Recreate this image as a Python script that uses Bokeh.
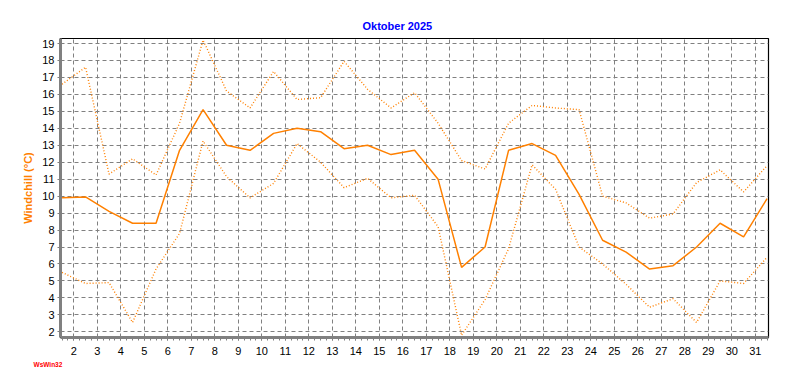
from bokeh.plotting import figure
from bokeh.models import Range1d, SingleIntervalTicker, Title, ColumnDataSource
from bokeh.transform import dodge
from bokeh.embed import file_html
from bokeh.resources import INLINE

# ---- data (Oktober 2025, Windchill in °C) ----
days = list(range(1, 32))
wc_mean = [9.9, 9.95, 9.1, 8.4, 8.4, 12.7, 15.1, 13.0, 12.7, 13.7, 14.0, 13.8, 12.8, 13.0, 12.45,
           12.7, 11.0, 5.8, 7.0, 12.7, 13.1, 12.4, 10.1, 7.4, 6.7, 5.7, 5.9, 7.0, 8.4, 7.6, 9.85]
wc_max = [16.6, 17.6, 11.3, 12.2, 11.25, 14.3, 19.2, 16.2, 15.2, 17.35, 15.7, 15.8, 17.95, 16.3, 15.2,
          16.1, 14.3, 12.1, 11.6, 14.3, 15.35, 15.2, 15.1, 10.0, 9.6, 8.7, 8.95, 10.8, 11.55, 10.25, 11.8]
wc_min = [5.5, 4.85, 4.9, 2.55, 5.7, 7.8, 13.25, 11.15, 9.9, 10.75, 13.1, 12.0, 10.5, 11.05, 9.9,
          10.05, 8.2, 1.8, 3.9, 6.9, 11.85, 10.4, 7.0, 6.0, 4.8, 3.45, 3.95, 2.55, 5.0, 4.85, 6.4]

title_text = "Oktober 2025"
y_label = "Windchill (°C)"
logo_text = "WsWin32"

ORANGE = "#FF8000"
GRID = "#808080"
FONT = "Liberation Sans"

src = ColumnDataSource(dict(day=days, mean=wc_mean, mx=wc_max, mn=wc_min))

p = figure(frame_width=708, frame_height=299, output_backend="svg", toolbar_location=None,
           x_range=Range1d(1.434, 31.56), y_range=Range1d(1.664, 19.295),
           min_border_left=60, min_border_right=8, min_border_top=38, min_border_bottom=30)
p.title.visible = False
p.background_fill_color = "white"
p.border_fill_color = "white"
p.outline_line_color = "black"
p.outline_line_width = 1.2

xpos = dodge("day", 0.5, range=p.x_range)
p.line(x=xpos, y="mx", source=src, line_color=ORANGE, line_width=1.4, line_dash="1 2")
p.line(x=xpos, y="mn", source=src, line_color=ORANGE, line_width=1.4, line_dash="1 2")
p.line(x=xpos, y="mean", source=src, line_color=ORANGE, line_width=1.5)

# axes
p.xaxis.ticker = SingleIntervalTicker(interval=1, num_minor_ticks=4)
p.yaxis.ticker = SingleIntervalTicker(interval=1, num_minor_ticks=0)
for ax in (p.xaxis, p.yaxis):
    ax.axis_line_color = GRID
    ax.axis_line_width = 3
    ax.major_tick_line_color = GRID
    ax.major_tick_in = 0
    ax.major_tick_out = 3
    ax.major_label_text_font = FONT
    ax.major_label_text_font_size = "11px"
    ax.major_label_text_color = "black"
p.xaxis.minor_tick_line_color = GRID
p.xaxis.minor_tick_in = 0
p.xaxis.minor_tick_out = 3
p.xaxis.major_label_standoff = 6
p.yaxis.minor_tick_line_color = None
p.yaxis.major_label_standoff = 3

p.yaxis.axis_label = y_label
p.yaxis.axis_label_text_font = FONT
p.yaxis.axis_label_text_font_style = "bold"
p.yaxis.axis_label_text_font_size = "11px"
p.yaxis.axis_label_text_color = ORANGE
p.yaxis.axis_label_standoff = 5

# grid
for g in (p.xgrid, p.ygrid):
    g.grid_line_color = GRID
    g.grid_line_dash = "4 3"
    g.grid_line_width = 1

# title above, logo below
p.add_layout(Title(text=title_text, align="left", offset=302, standoff=14,
                   text_font=FONT, text_font_style="bold", text_font_size="11px",
                   text_color="#0000FF"), "above")
p.add_layout(Title(text=logo_text, align="left", offset=-27, standoff=3,
                   text_font=FONT, text_font_style="bold", text_font_size="6.5px",
                   text_color="#FF0000"), "below")

open("out.html", "w").write(file_html(p, INLINE))
